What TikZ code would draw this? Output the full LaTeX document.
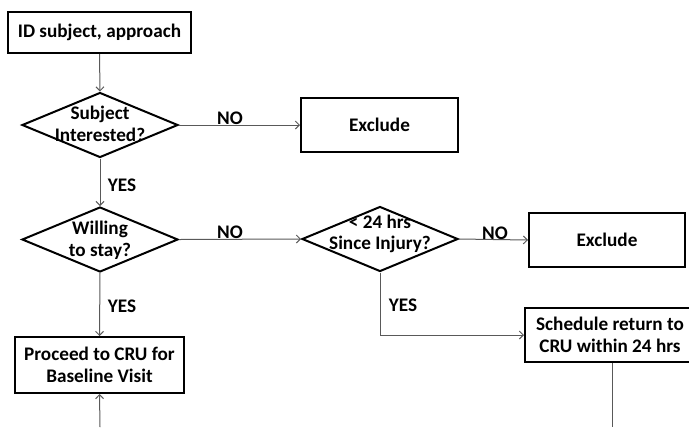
\documentclass[tikz,border=0pt]{standalone}
\usepackage{fontspec}
\setmainfont{Carlito}
\usetikzlibrary{shapes.geometric,arrows.meta}
\begin{document}
\begin{tikzpicture}[x=1bp,y=-1bp,
  txtfont/.style={font=\fontsize{19.2bp}{21.6bp}\selectfont\bfseries},
  box/.style={draw=black,line width=2bp,inner sep=0,align=center,txtfont},
  dec/.style={draw=black,line width=2bp,shape=diamond,inner sep=0,minimum width=156bp,minimum height=65bp},
  dtxt/.style={txtfont,align=center,inner sep=0},
  conn/.style={draw=black!65,line width=1bp,-{Straight Barb[length=4bp,width=8bp]}},
  plain/.style={draw=black!65,line width=1bp},
  lbl/.style={txtfont,inner sep=0}]
\useasboundingbox (0,0) rectangle (689,427);
\begin{scope}
\clip (0,0) rectangle (689,427);
% boxes
\node[box,minimum width=183bp,minimum height=41bp] (b1) at (99.5,32.5) {ID subject, approach};
\node[box,minimum width=157bp,minimum height=54bp] (e1) at (379.5,125) {Exclude};
\node[box,minimum width=156bp,minimum height=54bp] (e2) at (607,240) {Exclude};
\node[box,minimum width=169bp,minimum height=56bp] (proc) at (99.5,365) {Proceed to CRU for\\Baseline Visit};
\node[box,minimum width=174bp,minimum height=54bp] (sched) at (612,335) {};
\node[dtxt] (schedt) at (610,335) {Schedule return to\\CRU within 24 hrs};
% diamonds
\node[dec] (d1) at (100,125) {};
\node[dtxt] (d1t) at (100,124) {Subject\\Interested?};
\node[dec] (d2) at (100,239.5) {};
\node[dtxt] (d2t) at (100,240.5) {Willing\\to stay?};
\node[dec] (d3) at (380,239) {};
\node[dtxt] (d3t) at (380,234) {< 24 hrs\\Since Injury?};
% free ends
\coordinate (bot1) at (100,427);
\coordinate (bot2) at (612,427);
% connectors
\draw[conn] (b1.south) -- (d1.north);
\draw[conn] (d1.east) -- (e1.west);
\draw[conn] (d1.south) -- (d2.north);
\draw[conn] (d2.east) -- (d3.west);
\draw[conn] (d2.south) -- (proc.north);
\draw[conn] (d3.east) -- (e2.west);
\draw[conn] (d3.south) |- (sched.west);
\draw[plain] (sched.south) -- (bot2);
\draw[conn] (bot1) -- (proc.south);
% labels
\node[lbl] (no1) at (230,118) {NO};
\node[lbl] (yes1) at (122,185) {YES};
\node[lbl] (no2) at (230,232) {NO};
\node[lbl] (yes2) at (122,306) {YES};
\node[lbl] (no3) at (495,233) {NO};
\node[lbl] (yes3) at (403,305) {YES};
\end{scope}
\end{tikzpicture}
\end{document}
